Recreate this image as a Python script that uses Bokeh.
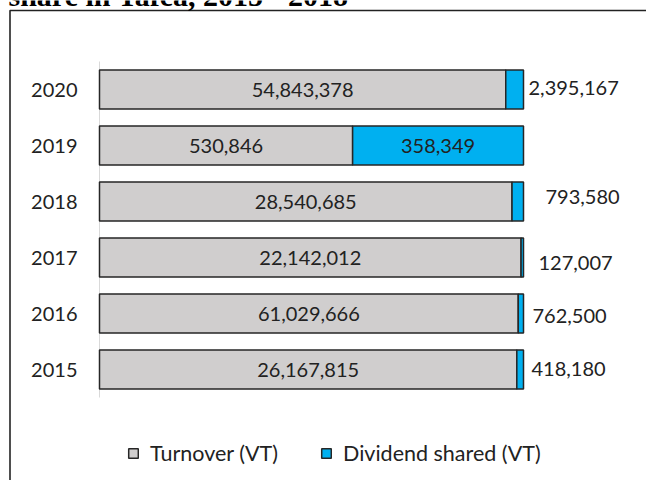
from bokeh.plotting import figure
from bokeh.models import Range1d, Legend, LegendItem, ColumnDataSource
from bokeh.core.properties import value
from bokeh.embed import file_html
from bokeh.resources import INLINE

# ---- data ----
years = ["2015", "2016", "2017", "2018", "2019", "2020"]
turnover = [26167815, 61029666, 22142012, 28540685, 530846, 54843378]
dividend = [418180, 762500, 127007, 793580, 358349, 2395167]
title_text = "share in Tafea, 2015  -  2018"
series_names = ["Turnover (VT)", "Dividend shared (VT)"]

# ---- styling / layout ----
GRAY = "#D0CECE"
BLUE = "#00B0F0"
EDGE = "#262626"
FONT = "Lato"
W, H = 646, 480
PX_PER_PCT = (523 - 99) / 100.0   # bar length in px per percent
PX_PER_CAT = 56.0

def dx(px):
    return (px - 99) / PX_PER_PCT

def dy(py):
    return (369 - py) / PX_PER_CAT

# per-label pixel nudges (screen px) for dividend labels placed outside the bar
div_out_dx = [8, 9, 15, 22, 0, 5]
div_out_dy = [-1, 2, 5, -5, 0, -2]

idx = list(range(len(years)))
totals = [t + d for t, d in zip(turnover, dividend)]
turn_pct = [100.0 * t / s for t, s in zip(turnover, totals)]

p = figure(width=W, height=H, output_backend="svg", toolbar_location=None,
           x_range=Range1d(dx(0), dx(W)), y_range=Range1d(dy(H), dy(0)),
           x_axis_type=None, y_axis_type=None, min_border=0)
p.outline_line_color = None
p.grid.visible = False
p.background_fill_color = "white"
p.border_fill_color = "white"

src = ColumnDataSource(dict(y=idx, tp=turn_pct, year=years))

# outer frame (left and top edges only visible)
p.line(x=[dx(9.5), dx(9.5), dx(700)], y=[dy(520), dy(10), dy(10)],
       line_color="#222222", line_width=1.6)

# category axis line
p.segment(x0=[0], y0=[-0.5], x1=[0], y1=[len(years) - 0.5],
          line_color="#D9D9D9", line_width=1)

r1 = p.hbar(y="y", left=0, right="tp", height=0.7, source=src,
            fill_color=GRAY, line_color=EDGE, line_width=1.5)
r2 = p.hbar(y="y", left="tp", right=100, height=0.7, source=src,
            fill_color=BLUE, line_color=EDGE, line_width=1.5)

# year labels
p.text(x=dx(77), y="y", text="year", source=src, text_align="right",
       text_baseline="middle", text_font=value(FONT), text_font_size="20px",
       text_color="#222222")

# turnover labels centered in gray segment
tx = [tp / 2 for tp in turn_pct]
p.text(x=tx, y=idx, text=[f"{v:,}" for v in turnover], text_align="center",
       text_baseline="middle", text_font=value(FONT), text_font_size="20px",
       text_color="#222222")

# dividend labels: inside if wide enough else outside
in_x, in_y, in_t = [], [], []
out_x, out_y, out_t, out_xo, out_yo = [], [], [], [], []
for i, (tp, d) in enumerate(zip(turn_pct, dividend)):
    if 100 - tp > 15:
        in_x.append((tp + 100) / 2); in_y.append(i); in_t.append(f"{d:,}")
    else:
        out_x.append(100); out_y.append(i); out_t.append(f"{d:,}")
        out_xo.append(div_out_dx[i]); out_yo.append(div_out_dy[i])
p.text(x=in_x, y=in_y, text=in_t, text_align="center", text_baseline="middle",
       text_font=value(FONT), text_font_size="20px", text_color="#222222")
p.text(x=out_x, y=out_y, text=out_t, x_offset=out_xo, y_offset=out_yo,
       text_align="left", text_baseline="middle",
       text_font=value(FONT), text_font_size="20px", text_color="#222222")

# clipped title (only its lower part is visible, as in the reference)
p.text(x=[dx(8)], y=[dy(-5)], text=[title_text], text_align="left",
       text_baseline="alphabetic", text_font=value("Liberation Serif"),
       text_font_style="bold", text_font_size="30px", text_color="#000000")

legend = Legend(items=[LegendItem(label=series_names[0], renderers=[r1]),
                       LegendItem(label=series_names[1], renderers=[r2])],
                orientation="horizontal", location=(127, 14),
                label_text_font=FONT, label_text_font_size="21.5px",
                label_text_color="#222222",
                glyph_width=12, glyph_height=12, label_standoff=11,
                spacing=42, padding=0, margin=0,
                border_line_alpha=0, background_fill_alpha=0)
p.add_layout(legend)

open("out.html", "w").write(file_html(p, INLINE))
